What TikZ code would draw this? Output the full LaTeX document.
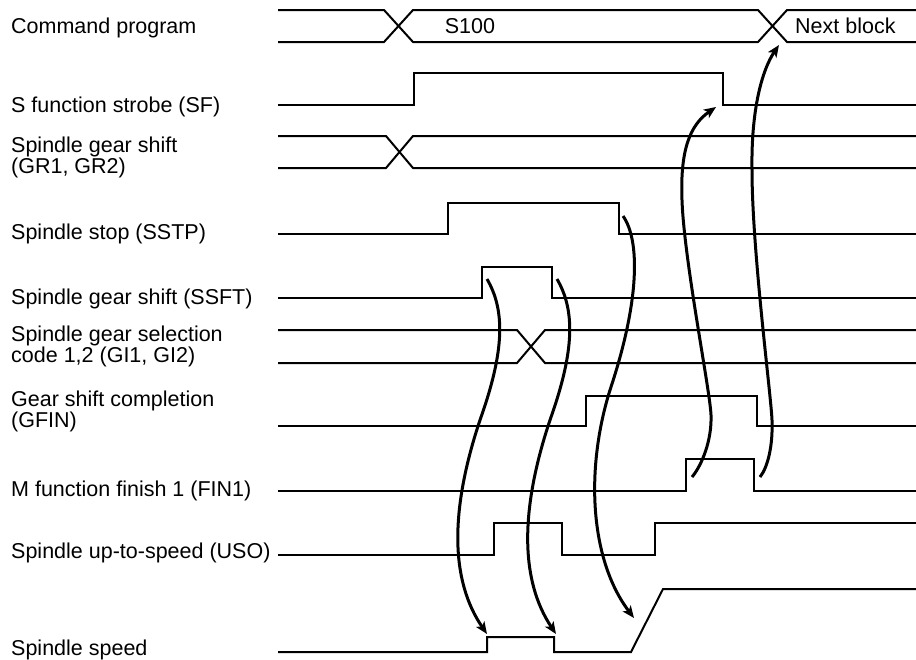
\documentclass[tikz,border=0pt]{standalone}
\usepackage{fontspec}
\setmainfont{Liberation Sans}
\usetikzlibrary{arrows.meta}

\begin{document}
\begin{tikzpicture}[
    x=1pt, y=-1pt,
    label/.style={anchor=base west, inner sep=0pt, align=left, font=\fontsize{21.5}{21}\selectfont},
    sig/.style={line width=2pt, line join=miter},
    arrow/.style={-{Stealth[length=12pt, width=10pt, inset=3pt]}, line width=3pt}
]
\useasboundingbox (0,0) rectangle (916,659);

% signal names
\node[label] (cmd)  at (11,33)  {Command program};
\node[label] (sf)   at (11,112) {S function strobe (SF)};
\node[label] (gr)   at (11,173) {Spindle gear shift\\(GR1, GR2)};
\node[label] (sstp) at (11,239) {Spindle stop (SSTP)};
\node[label] (ssft) at (11,304) {Spindle gear shift (SSFT)};
\node[label] (gi)   at (11,362) {Spindle gear selection\\code 1,2 (GI1, GI2)};
\node[label] (gfin) at (11,427) {Gear shift completion\\(GFIN)};
\node[label] (fin)  at (11,496) {M function finish 1 (FIN1)};
\node[label] (uso)  at (11,558) {Spindle up-to-speed (USO)};
\node[label] (spd)  at (11,655) {Spindle speed};

% command program bus
\draw[sig] (278,10) -- (384,10) -- (413,42) -- (758,42) -- (787,10) -- (916,10);
\draw[sig] (278,42) -- (384,42) -- (413,10) -- (758,10) -- (787,42) -- (916,42);
\node[label, anchor=base] (s100) at (470,33) {S100};
\node[label] (next) at (795,33) {Next block};

% SF
\draw[sig] (278,105) -- (414,105) -- (414,73) -- (723,73) -- (723,105) -- (916,105);
% GR1, GR2
\draw[sig] (278,136) -- (386,136) -- (413,168) -- (916,168);
\draw[sig] (278,168) -- (386,168) -- (413,136) -- (916,136);
% SSTP
\draw[sig] (278,234) -- (448,234) -- (448,203) -- (619,203) -- (619,234) -- (916,234);
% SSFT
\draw[sig] (278,298) -- (482,298) -- (482,267) -- (552,267) -- (552,298) -- (916,298);
% GI1, GI2
\draw[sig] (278,330) -- (517,330) -- (545,363) -- (916,363);
\draw[sig] (278,363) -- (517,363) -- (545,330) -- (916,330);
% GFIN
\draw[sig] (278,426) -- (586,426) -- (586,396) -- (757,396) -- (757,426) -- (916,426);
% FIN1
\draw[sig] (278,491) -- (686,491) -- (686,459) -- (754,459) -- (754,491) -- (916,491);
% USO
\draw[sig] (278,555) -- (494,555) -- (494,523) -- (562,523) -- (562,555) -- (655,555) -- (655,523) -- (916,523);
% spindle speed
\draw[sig] (278,652) -- (487,652) -- (487,637) -- (554,637) -- (554,652) -- (631,652) -- (663,589) -- (916,589);

% edge points
\coordinate (ssft-up)   at (487,279);
\coordinate (ssft-down) at (557,279);
\coordinate (sstp-down) at (623,216);
\coordinate (fin-up)    at (692,477);
\coordinate (fin-down)  at (760,477);
\coordinate (spd-up)    at (487,634);
\coordinate (spd-down)  at (556,634);
\coordinate (spd-ramp)  at (634,618);
\coordinate (sf-down)   at (716,107);
\coordinate (cmd-next)  at (779,45);

% causality arrows
\draw[arrow] (ssft-up) .. controls (505,310) and (505,350) .. (480,420)
    .. controls (450,510) and (450,580) .. (spd-up);
\draw[arrow] (ssft-down) .. controls (575,310) and (575,350) .. (550,420)
    .. controls (520,510) and (520,580) .. (spd-down);
\draw[arrow] (sstp-down) .. controls (640,240) and (640,300) .. (610,390)
    .. controls (585,470) and (590,560) .. (spd-ramp);
\draw[arrow] (fin-up) .. controls (702,465) and (712,440) .. (711,415)
    .. controls (710,390) and (684,260) .. (682,200)
    .. controls (680,150) and (690,125) .. (sf-down);
\draw[arrow] (fin-down) .. controls (768,467) and (773,445) .. (772,420)
    .. controls (771,395) and (752,250) .. (752,170)
    .. controls (751,110) and (762,70) .. (cmd-next);
\end{tikzpicture}
\end{document}
